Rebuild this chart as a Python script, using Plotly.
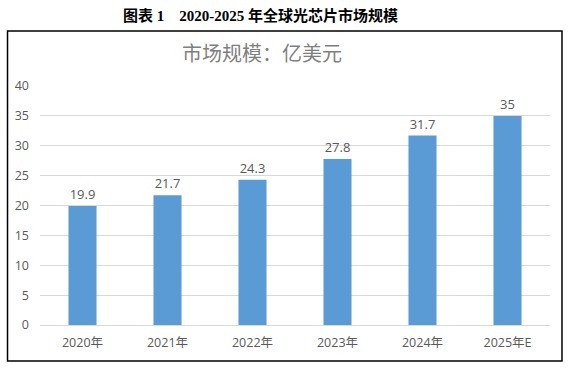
import plotly.graph_objects as go

categories = ["2020年", "2021年", "2022年", "2023年", "2024年", "2025年E"]
values = [19.9, 21.7, 24.3, 27.8, 31.7, 35]
value_labels = ["19.9", "21.7", "24.3", "27.8", "31.7", "35"]
y_ticks = [0, 5, 10, 15, 20, 25, 30, 35, 40]

FONT = "Open Sans, Noto Sans CJK SC, sans-serif"
GRAY = "#595959"

fig = go.Figure(go.Bar(
    x=categories, y=values, text=value_labels, textposition="outside",
    textfont=dict(family=FONT, size=13, color=GRAY),
    marker=dict(color="#5B9BD5", line=dict(width=0)),
    width=0.33, cliponaxis=False,
))

fig.update_layout(
    width=569, height=369,
    margin=dict(l=40, r=19, t=86, b=44),
    paper_bgcolor="white", plot_bgcolor="white",
    showlegend=False,
    font=dict(family=FONT, color=GRAY, size=12),
    xaxis=dict(showgrid=False, showline=False, ticks="", ticklabelstandoff=8,
               tickfont=dict(family=FONT, size=12.5, color=GRAY)),
    yaxis=dict(range=[0, 40], tickvals=y_ticks, showgrid=True,
               gridcolor="#D9D9D9", gridwidth=1, zeroline=True,
               zerolinecolor="#D9D9D9", zerolinewidth=1, showline=False,
               ticks="", ticklabelstandoff=10,
               tickfont=dict(family=FONT, size=12.5, color=GRAY)),
    shapes=[dict(type="rect", xref="paper", yref="paper",
                 x0=-0.0637, x1=1.0235, y0=-0.1506, y1=1.2301,
                 line=dict(color="black", width=1.5), fillcolor="rgba(0,0,0,0)")],
    annotations=[
        dict(text="<b>图表 1    2020-2025 年全球光芯片市场规模</b>",
             xref="paper", yref="paper", x=(260-40)/510, y=(325-15)/239,
             xanchor="center", yanchor="middle", showarrow=False,
             font=dict(family="Liberation Serif, Noto Sans CJK SC, serif", size=15, color="black")),
        dict(text="市场规模：亿美元",
             xref="paper", yref="paper", x=(262-40)/510, y=(325-53)/239,
             xanchor="center", yanchor="middle", showarrow=False,
             font=dict(family="Noto Sans CJK SC, sans-serif", size=20, color="#7F7F7F")),
    ],
)

fig.write_html("out.html", config={"displayModeBar": False},
               post_script="document.body.style.margin='0';document.body.style.padding='0';")
